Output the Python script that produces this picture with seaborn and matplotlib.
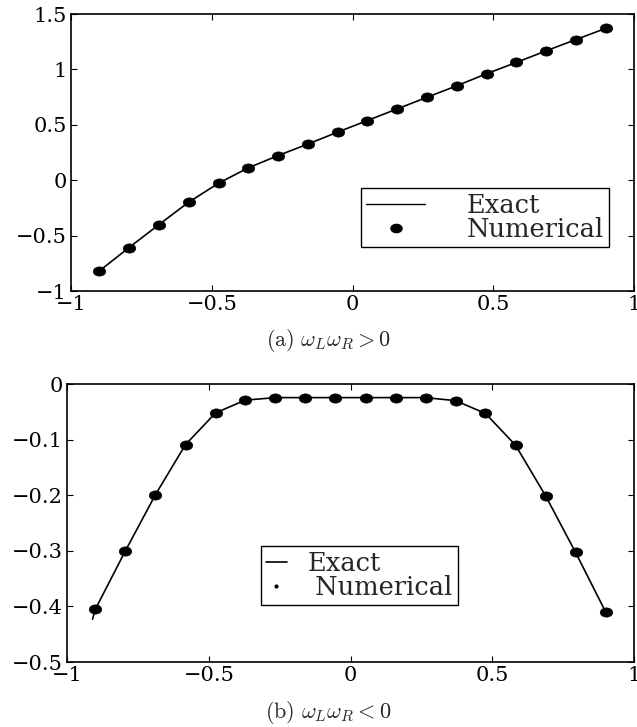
import numpy as np
import matplotlib
matplotlib.use("Agg")
import matplotlib.pyplot as plt
import seaborn as sns
from matplotlib.lines import Line2D
from matplotlib.path import Path
import pandas as pd

# Sample locations (cell centres) shared by both cases
x_nodes = [-0.9, -0.794, -0.688, -0.582, -0.476, -0.371, -0.265, -0.159, -0.053,
           0.053, 0.159, 0.265, 0.371, 0.476, 0.582, 0.688, 0.794, 0.9]

# Case (a): omega_L * omega_R > 0
num_a = [-0.820, -0.608, -0.401, -0.198, -0.027, 0.111, 0.222, 0.326, 0.434,
         0.539, 0.644, 0.749, 0.853, 0.961, 1.063, 1.168, 1.270, 1.371]
exact_a_x = x_nodes
exact_a_y = num_a

# Case (b): omega_L * omega_R < 0
num_b = [-0.405, -0.300, -0.199, -0.109, -0.052, -0.029, -0.0245, -0.0245, -0.0245,
         -0.0245, -0.0245, -0.0245, -0.030, -0.053, -0.110, -0.201, -0.303, -0.410]
exact_b_x = [-0.91] + x_nodes
exact_b_y = [-0.423] + num_b

xticks = [-1, -0.5, 0, 0.5, 1]
yticks_a = [-1, -0.5, 0, 0.5, 1, 1.5]
yticks_b = [-0.5, -0.4, -0.3, -0.2, -0.1, 0]

sns.set_style("ticks")
plt.rcParams["font.family"] = ["DejaVu Serif"]
plt.rcParams["mathtext.fontset"] = "cm"
plt.rcParams["axes.unicode_minus"] = True

# slightly wide oval marker
_c = Path.unit_circle()
oval = Path(_c.vertices * np.array([1.35, 1.0]), _c.codes)


def fmt(v):
    s = ("%g" % v)
    return s.replace("-", "\u2212")


def style_axes(ax, yticks, ylim):
    ax.set_xlim(-1, 1)
    ax.set_ylim(*ylim)
    ax.set_xticks(xticks)
    ax.set_xticklabels([fmt(t) for t in xticks])
    ax.set_yticks(yticks)
    ax.set_yticklabels([fmt(t) for t in yticks])
    ax.tick_params(direction="in", length=4, width=0.8, top=True, right=True,
                   labelsize=15, colors="black", pad=3)
    for sp in ax.spines.values():
        sp.set_visible(True)
        sp.set_color("black")
        sp.set_linewidth(1.2)
    ax.set_xlabel("")
    ax.set_ylabel("")


fig = plt.figure(figsize=(6.37, 7.27), dpi=100)
ax1 = fig.add_axes([0.1115, 0.5997, 0.8838, 0.381])
ax2 = fig.add_axes([0.1052, 0.0894, 0.8901, 0.3824])

# ---- panel (a)
df_ae = pd.DataFrame({"x": exact_a_x, "y": exact_a_y})
df_an = pd.DataFrame({"x": x_nodes, "y": num_a})
sns.lineplot(data=df_ae, x="x", y="y", ax=ax1, color="black", lw=1.2, sort=False)
sns.scatterplot(data=df_an, x="x", y="y", ax=ax1, color="black", marker=oval,
                s=80, edgecolor="black", linewidth=0.5, zorder=3)
style_axes(ax1, yticks_a, (-1, 1.5))
h_a = [Line2D([], [], color="black", lw=1.0),
       Line2D([], [], color="black", ls="none", marker=oval, markersize=8)]
leg1 = ax1.legend(h_a, ["Exact", "Numerical"], loc="upper left",
                  bbox_to_anchor=(0.515, 0.372), borderaxespad=0,
                  fontsize=18.5, handlelength=2.3, handletextpad=1.6,
                  labelspacing=-0.05, borderpad=0.2, fancybox=False,
                  framealpha=1, edgecolor="black")
leg1.get_frame().set_linewidth(1.0)

# ---- panel (b)
df_be = pd.DataFrame({"x": exact_b_x, "y": exact_b_y})
df_bn = pd.DataFrame({"x": x_nodes, "y": num_b})
sns.lineplot(data=df_be, x="x", y="y", ax=ax2, color="black", lw=1.2, sort=False)
sns.scatterplot(data=df_bn, x="x", y="y", ax=ax2, color="black", marker=oval,
                s=80, edgecolor="black", linewidth=0.5, zorder=3)
style_axes(ax2, yticks_b, (-0.5, 0))
h_b = [Line2D([], [], color="black", lw=1.2),
       Line2D([], [], color="black", ls="none", marker="o", markersize=2)]
leg2 = ax2.legend(h_b, ["Exact", " Numerical"], loc="upper left",
                  bbox_to_anchor=(0.342, 0.417), borderaxespad=0,
                  fontsize=18.5, handlelength=0.8, handletextpad=0.8,
                  labelspacing=-0.05, borderpad=0.2, fancybox=False,
                  framealpha=1, edgecolor="black")
leg2.get_frame().set_linewidth(1.0)

# ---- captions
fig.text(0.515, 1 - 340 / 727, r"$\mathrm{(a)}\ \omega_L\omega_R > 0$",
         ha="center", va="center", fontsize=16)
fig.text(0.515, 1 - 712 / 727, r"$\mathrm{(b)}\ \omega_L\omega_R < 0$",
         ha="center", va="center", fontsize=16)

fig.savefig("out.png", dpi=100, facecolor="white")
